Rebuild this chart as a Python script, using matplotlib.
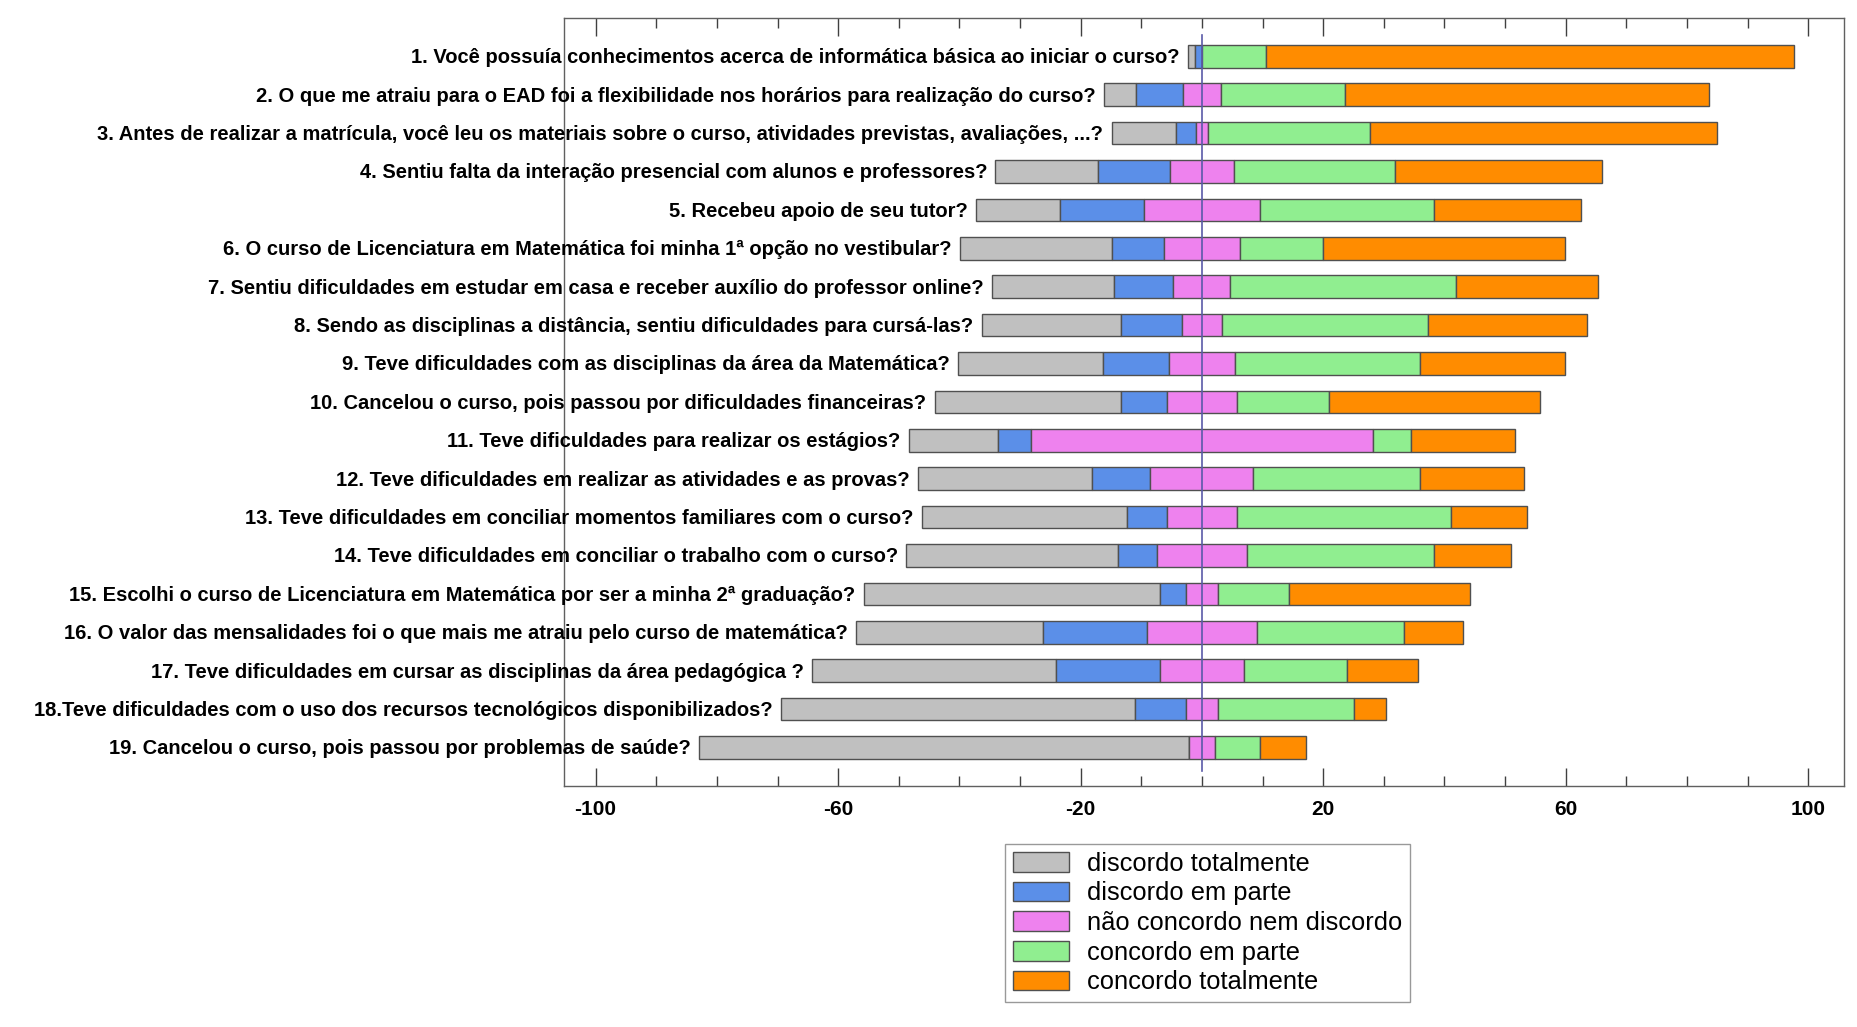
import numpy as np
import matplotlib.pyplot as plt

plt.rcParams["axes.unicode_minus"] = False

# ---------------------------
# Data (percent of answers per question)
# ---------------------------
questions = [
    "1. Você possuía conhecimentos acerca de informática básica ao iniciar o curso?",
    "2. O que me atraiu para o EAD foi a flexibilidade nos horários para realização do curso?",
    "3. Antes de realizar a matrícula, você leu os materiais sobre o curso, atividades previstas, avaliações, ...?",
    "4. Sentiu falta da interação presencial com alunos e professores?",
    "5. Recebeu apoio de seu tutor?",
    "6. O curso de Licenciatura em Matemática foi minha 1ª opção no vestibular?",
    "7. Sentiu dificuldades em estudar em casa e receber auxílio do professor online?",
    "8. Sendo as disciplinas a distância, sentiu dificuldades para cursá-las?",
    "9. Teve dificuldades com as disciplinas da área da Matemática?",
    "10. Cancelou o curso, pois passou por dificuldades financeiras?",
    "11. Teve dificuldades para realizar os estágios?",
    "12. Teve dificuldades em realizar as atividades e as provas?",
    "13. Teve dificuldades em conciliar momentos familiares com o curso?",
    "14. Teve dificuldades em conciliar o trabalho com o curso?",
    "15. Escolhi o curso de Licenciatura em Matemática por ser a minha 2ª graduação?",
    "16. O valor das mensalidades foi o que mais me atraiu pelo curso de matemática?",
    "17. Teve dificuldades em cursar as disciplinas da área pedagógica ?",
    "18.Teve dificuldades com o uso dos recursos tecnológicos disponibilizados?",
    "19. Cancelou o curso, pois passou por problemas de saúde?",
]

disc_total = [1.1, 5.3, 10.6, 16.9, 13.8, 25.1, 20.2, 23.0, 24.0, 30.7,
              14.7, 28.8, 33.9, 35.0, 48.8, 30.8, 40.2, 58.4, 80.9]
disc_parte = [1.2, 7.7, 3.3, 11.9, 13.9, 8.5, 9.8, 10.0, 10.8, 7.6,
              5.5, 9.6, 6.5, 6.4, 4.3, 17.2, 17.1, 8.4, 0.0]
neutro = [0.0, 6.4, 2.0, 10.5, 19.1, 12.6, 9.4, 6.6, 10.9, 11.6,
          56.3, 17.0, 11.6, 14.8, 5.4, 18.0, 13.9, 5.4, 4.2]
conc_parte = [10.5, 20.4, 26.7, 26.6, 28.7, 13.6, 37.2, 33.9, 30.5, 15.1,
              6.4, 27.5, 35.2, 30.9, 11.7, 24.4, 16.9, 22.3, 7.4]
conc_total = [87.2, 60.1, 57.3, 34.1, 24.3, 40.0, 23.5, 26.3, 23.9, 34.9,
              17.0, 17.1, 12.6, 12.7, 29.8, 9.6, 11.7, 5.3, 7.6]

legend_labels = ["discordo totalmente", "discordo em parte",
                 "não concordo nem discordo", "concordo em parte",
                 "concordo totalmente"]
colors = ["#c0c0c0", "#5b8fe8", "#ee82ee", "#90ee90", "#ff8c00"]

series = np.array([disc_total, disc_parte, neutro, conc_parte, conc_total])
y = np.arange(1, len(questions) + 1)

# neutral category centred on zero
start = -(series[0] + series[1] + series[2] / 2.0)

fig = plt.figure(figsize=(18.58, 10.27), dpi=100)
ax = fig.add_axes([0.3036, 0.2347, 0.9925 - 0.3036, 0.9825 - 0.2347])

left = start.copy()
handles = []
for vals, col, lab in zip(series, colors, legend_labels):
    h = ax.barh(y, vals, left=left, height=0.59, color=col,
                edgecolor="#505050", linewidth=1.0, label=lab, zorder=2)
    handles.append(h)
    left = left + vals

# zero line drawn over the bars
ax.plot([0, 0], [0.45, 19.6], color="#5a5aa8", linewidth=1.2, zorder=3)

# question labels next to the bar ends
for yi, q, s in zip(y, questions, start):
    ax.annotate(q, xy=(s, yi), xytext=(-6, -1), textcoords="offset points",
                ha="right", va="center", fontsize=14.5, fontweight="bold",
                family="Liberation Sans", annotation_clip=False, zorder=4)

ax.set_xlim(-105.2, 105.9)
ax.set_ylim(20.0, 0.0)
ax.set_yticks([])
ax.set_xticks([-100, -60, -20, 20, 60, 100])
ax.set_xticks(np.arange(-100, 101, 10), minor=True)
ax.tick_params(axis="x", which="both", direction="in", top=True, bottom=True,
               color="#404040")
ax.tick_params(axis="x", which="major", length=13, width=1, pad=10)
ax.tick_params(axis="x", which="minor", length=7, width=1)
for t in ax.get_xticklabels():
    t.set_fontsize(15)
    t.set_fontweight("bold")
    t.set_family("Liberation Sans")
for sp in ax.spines.values():
    sp.set_color("#606060")
    sp.set_linewidth(1.0)

leg = fig.legend(handles=handles, loc="upper left",
                 bbox_to_anchor=(0.541, 0.178), frameon=True, fancybox=False,
                 prop={"family": "Liberation Sans", "size": 18.4},
                 handlelength=2.2, handleheight=0.8, labelspacing=0.22,
                 handletextpad=0.7, borderpad=0.3, borderaxespad=0)
leg.get_frame().set_edgecolor("#808080")
leg.get_frame().set_linewidth(1.0)

fig.savefig("out.png", dpi=100)
